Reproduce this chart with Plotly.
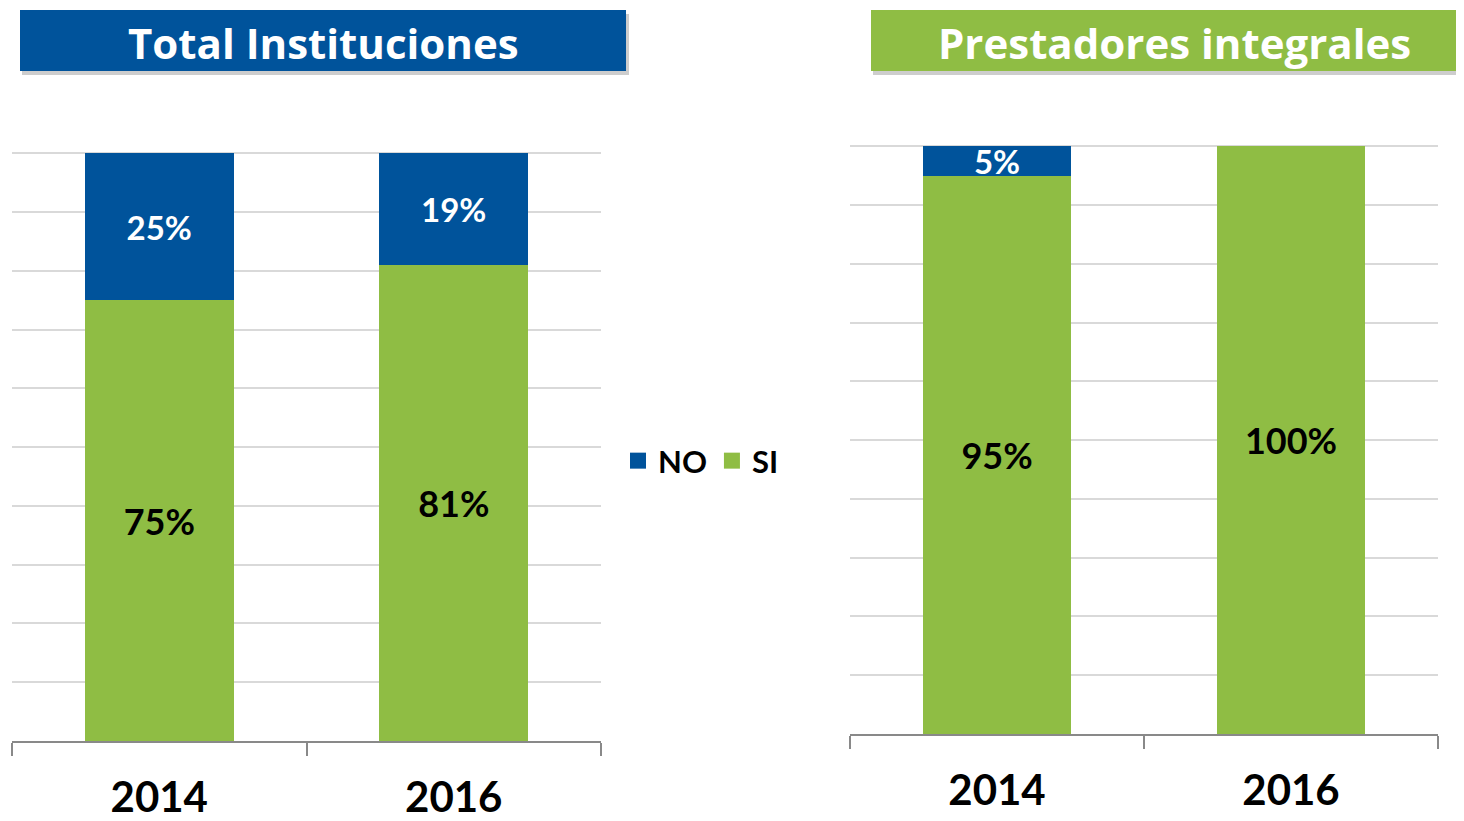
import plotly.graph_objects as go

# page body adds an 8px offset; the figure overflows the window by that amount
OFF = 8
W, H = 1464, 821

years = ["2014", "2016"]
left_no = [25, 19]
left_si = [75, 81]
right_no = [5, 0]
right_si = [95, 100]
titles = ["Total Instituciones", "Prestadores integrales"]

BLUE = "#00539B"
GREEN = "#8FBD44"
GRID = "#D9D9D9"
AXIS = "#898989"
FONT = "Lato"


def px_x(p):
    return (p - OFF) / W


def px_y(p):
    return 1 - (p - OFF) / H


def labels(vals):
    return [f"{v}%" if v > 0 else "" for v in vals]


fig = go.Figure()

for (no, si, xa, ya) in [(left_no, left_si, "x", "y"), (right_no, right_si, "x2", "y2")]:
    fig.add_trace(go.Bar(
        x=years, y=si, name="SI", marker=dict(color=GREEN, line=dict(width=0)),
        text=labels(si), textposition="inside", insidetextanchor="middle",
        textangle=0, constraintext="none",
        textfont=dict(family=FONT, size=36, color="black", weight="bold"),
        xaxis=xa, yaxis=ya, showlegend=False, hoverinfo="skip",
    ))
    fig.add_trace(go.Bar(
        x=years, y=no, name="NO", marker=dict(color=BLUE, line=dict(width=0)),
        text=labels(no), textposition="inside", insidetextanchor="middle",
        textangle=0, constraintext="none",
        textfont=dict(family=FONT, size=33, color="white", weight="bold"),
        xaxis=xa, yaxis=ya, showlegend=False, hoverinfo="skip",
    ))

# legend entries
for name, col in [("NO", BLUE), ("SI", GREEN)]:
    fig.add_trace(go.Scatter(
        x=[None], y=[None], mode="markers", name=name,
        marker=dict(symbol="square", size=16, color=col, line=dict(width=0)),
        xaxis="x", yaxis="y", showlegend=True,
    ))

xaxis_common = dict(
    type="category", showline=True, linecolor=AXIS, linewidth=2,
    ticks="outside", tickson="boundaries", ticklen=13, tickwidth=2, tickcolor=AXIS,
    showgrid=False, zeroline=False,
    tickfont=dict(family=FONT, size=42, color="black", weight="bold"),
    ticklabelstandoff=19,
)
yaxis_common = dict(
    range=[0, 100.3], dtick=10, showgrid=True, gridcolor=GRID, gridwidth=2,
    showticklabels=False, zeroline=False, showline=False, ticks="",
)

fig.update_layout(
    width=W, height=H,
    margin=dict(l=0, r=0, t=0, b=0),
    paper_bgcolor="white", plot_bgcolor="white",
    barmode="stack", bargap=0.494,
    font=dict(family=FONT),
    xaxis=dict(domain=[px_x(12), px_x(601)], anchor="y", **xaxis_common),
    yaxis=dict(domain=[px_y(741), px_y(151.5)], anchor="x", **yaxis_common),
    xaxis2=dict(domain=[px_x(850), px_x(1438)], anchor="y2", **xaxis_common),
    yaxis2=dict(domain=[px_y(734), px_y(144.5)], anchor="x2", **yaxis_common),
    legend=dict(
        orientation="h", traceorder="normal",
        x=px_x(618), y=px_y(461), xanchor="left", yanchor="middle",
        font=dict(family=FONT, size=31, color="black", weight="bold"),
        bgcolor="rgba(0,0,0,0)", itemwidth=30, tracegroupgap=0,
    ),
    showlegend=True,
)

# title boxes with shadow
boxes = [
    (20, 626, BLUE, titles[0], 323),
    (871, 1480, GREEN, titles[1], 1174),
]
for x0, x1, col, txt, cx in boxes:
    fig.add_shape(type="rect", xref="paper", yref="paper",
                  x0=px_x(x0 + 2), x1=px_x(x1 + 3), y0=px_y(75), y1=px_y(14),
                  fillcolor="rgba(90,90,90,0.3)", line=dict(width=0), layer="above")
    fig.add_shape(type="rect", xref="paper", yref="paper",
                  x0=px_x(x0), x1=px_x(x1), y0=px_y(71), y1=px_y(10),
                  fillcolor=col, line=dict(width=0), layer="above")
    fig.add_annotation(xref="paper", yref="paper", x=px_x(cx), y=px_y(42),
                       text=txt, showarrow=False, xanchor="center", yanchor="middle",
                       font=dict(family="Open Sans", size=42, color="white", weight="bold"))

fig.write_html("out.html")
